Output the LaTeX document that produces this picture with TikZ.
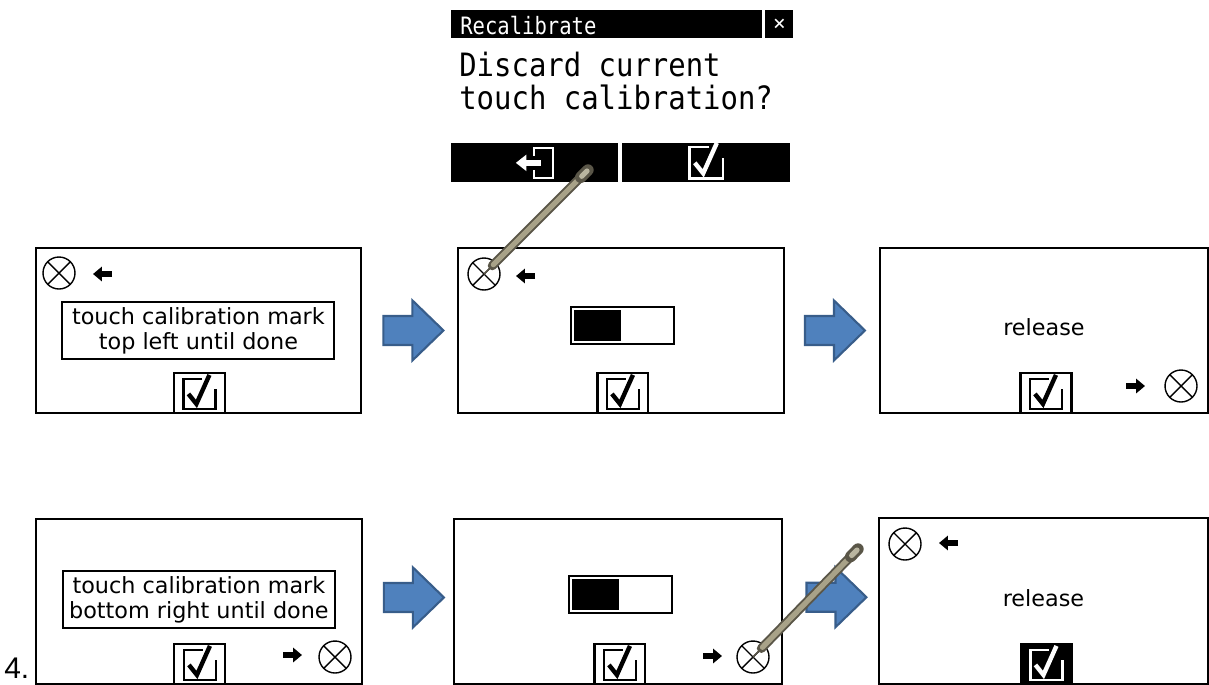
\documentclass[tikz,border=0pt]{standalone}
\usepackage{fontspec}
\setmainfont{Liberation Sans}
\newfontfamily\lcdfont{DejaVu Sans Mono}
\newfontfamily\panelfont{DejaVu Sans}
\usetikzlibrary{positioning, arrows.meta, calc}
\definecolor{flowfill}{RGB}{79,129,189}
\definecolor{flowline}{RGB}{56,93,138}
\definecolor{penbody}{RGB}{168,162,136}
\definecolor{penedge}{RGB}{90,86,72}

\tikzset{
  pics/tick/.style={code={
    \draw[line width=1.3pt] (3,-15) -- (-16,-15) -- (-16,15) -- (16,15) -- (16,-5);
    \draw[line width=2.5pt] (-11,0) -- (-3,10) -- (10,-19);
  }},
  pics/exiticon/.style={code={
    \draw[line width=1.3pt] (-2,-7) -- (-2,-15) -- (17,-15) -- (17,15) -- (-2,15) -- (-2,7);
    \draw[line width=3.2pt, -{Triangle[width=9pt,length=6pt]}] (5,0) -- (-20,0);
  }},
  pics/flow/.style={code={
    \filldraw[fill=flowfill, draw=flowline, line width=1.2pt]
      (-30,-14.5) -- (-1,-14.5) -- (-1,-30) -- (30,0) -- (-1,30) -- (-1,14.5) -- (-30,14.5) -- cycle;
  }}
}

\begin{document}
\begin{tikzpicture}[x=0.02cm, y=-0.02cm,
panel/.style={rectangle, draw, line width=1.1pt, anchor=north west, minimum height=3.3cm},
note/.style={rectangle, draw, line width=1.1pt, minimum width=5.44cm, minimum height=1.14cm,
  align=center, inner sep=0pt, font=\panelfont\fontsize{12.7}{14.2}\selectfont},
msgtext/.style={font=\panelfont\fontsize{12.7}{14}\selectfont},
okbtn/.style={rectangle, draw, line width=1.2pt, anchor=south, minimum width=1.02cm, minimum height=0.8cm},
bar/.style={rectangle, draw, line width=1.3pt, anchor=north west, minimum width=2.06cm, minimum height=0.74cm},
crossmark/.style={circle, draw, line width=0.8pt, minimum size=0.64cm, inner sep=0pt,
  path picture={\draw[line width=0.8pt]
    (path picture bounding box.north west) -- (path picture bounding box.south east)
    (path picture bounding box.north east) -- (path picture bounding box.south west);}},
mk/.style={line width=3pt, -{Triangle[width=8pt,length=5pt]}},
lcdbar/.style={rectangle, fill=black, anchor=north west, inner sep=0pt},
pen/.style={line cap=round}
]
\useasboundingbox (0,0) rectangle (1209,684);

% Recalibrate dialog
\node[lcdbar, minimum width=6.22cm, minimum height=0.56cm] (title) at (451,10) {};
\node[lcdbar, minimum width=0.56cm, minimum height=0.56cm] (close) at (765,10) {};
\node[anchor=west, white, inner sep=0pt, xscale=0.86, transform shape,
  font=\lcdfont\fontsize{13.6}{15}\selectfont] (titletext)
  at ([shift={(9,1)}]title.west) {Recalibrate};
\node[white, font=\lcdfont\fontsize{12}{13}\selectfont] (closetext) at (close.center) {×};
\node[anchor=north west, align=left, inner sep=0pt, xscale=0.9, transform shape,
  font=\lcdfont\fontsize{18.3}{18.8}\selectfont] (question) at (459,52)
  {Discard current\\touch calibration?};
\node[lcdbar, minimum width=3.34cm, minimum height=0.78cm] (back) at (451,143) {};
\node[lcdbar, minimum width=3.36cm, minimum height=0.78cm] (accept) at (622,143) {};
\pic[white] at ([shift={(1,0)}]back.center) {exiticon};
\pic[white, scale=1.05] at (accept.center) {tick};

% top row
\node[panel, minimum width=6.5cm] (p1) at (35,247) {};
\node[crossmark] (c1) at ([shift={(24,26)}]p1.north west) {};
\coordinate (a1) at (93,274);
\draw[mk] ([shift={(19,0)}]a1) -- (a1);
\node[note] (n1) at (p1.center) {touch calibration mark\\top left until done};
\node[okbtn] (k1) at ([shift={(1,0)}]p1.south) {};
\pic at ([shift={(0,-20)}]k1.south) {tick};

\node[panel, minimum width=6.52cm] (p2) at (457,247) {};
\node[crossmark] (c2) at ([shift={(27,27)}]p2.north west) {};
\coordinate (a2) at (516,276);
\draw[mk] ([shift={(19,0)}]a2) -- (a2);
\node[bar] (b2) at ([shift={(113,59)}]p2.north west) {};
\fill ([shift={(4,4)}]b2.north west) rectangle ([shift={(51,-4)}]b2.south west);
\node[okbtn] (k2) at ([shift={(2,0)}]p2.south) {};
\pic at ([shift={(0,-20)}]k2.south) {tick};

\node[panel, minimum width=6.56cm] (p3) at (879,247) {};
\node[msgtext] (r3) at ([shift={(0,-3)}]p3.center) {release};
\node[okbtn] (k3) at ([shift={(2,0)}]p3.south) {};
\pic at ([shift={(0,-20)}]k3.south) {tick};
\coordinate (a3) at (1145,386);
\draw[mk] ([shift={(-19,0)}]a3) -- (a3);
\node[crossmark] (c3) at ([shift={(302,139)}]p3.north west) {};

% bottom row
\node[anchor=base west, font=\fontsize{17}{20}\selectfont, inner sep=0pt] (step4) at (4,678) {4.};

\node[panel, minimum width=6.52cm] (p4) at (35,518) {};
\node[note] (n4) at ([shift={(0,-2)}]p4.center) {touch calibration mark\\bottom right until done};
\node[okbtn] (k4) at ([shift={(1,0)}]p4.south) {};
\pic at ([shift={(0,-20)}]k4.south) {tick};
\coordinate (a4) at (302,655);
\draw[mk] ([shift={(-19,0)}]a4) -- (a4);
\node[crossmark] (c4) at ([shift={(300,139)}]p4.north west) {};

\node[panel, minimum width=6.56cm] (p5) at (453,518) {};
\node[bar] (b5) at ([shift={(115,57)}]p5.north west) {};
\fill ([shift={(4,4)}]b5.north west) rectangle ([shift={(51,-4)}]b5.south west);
\node[okbtn] (k5) at ([shift={(2,0)}]p5.south) {};
\pic at ([shift={(0,-20)}]k5.south) {tick};
\coordinate (a5) at (722,656);
\draw[mk] ([shift={(-19,0)}]a5) -- (a5);
\node[crossmark] (c5) at ([shift={(300,139)}]p5.north west) {};

\node[panel, minimum width=6.58cm, minimum height=3.32cm] (p6) at (878,517) {};
\node[crossmark] (c6) at ([shift={(27,27)}]p6.north west) {};
\coordinate (a6) at (939,543);
\draw[mk] ([shift={(19,0)}]a6) -- (a6);
\node[msgtext] (r6) at ([shift={(0,-3)}]p6.center) {release};
\node[okbtn, fill=black] (k6) at ([shift={(3,0)}]p6.south) {};
\pic[white] at ([shift={(0,-20)}]k6.south) {tick};

% flow arrows
\pic at ($(p1.east)!0.5!(p2.west)+(4,0)$) {flow};
\pic at ($(p2.east)!0.5!(p3.west)+(3,0)$) {flow};
\pic at ($(p4.east)!0.5!(p5.west)+(6,-4)$) {flow};
\pic at ($(p5.east)!0.5!(p6.west)+(6,-4)$) {flow};

% styluses
\coordinate (s1) at (588,170);
\coordinate (s2) at (858,549);
\foreach \tip/\top in {c2/s1, c5/s2} {
  \draw[pen, line width=0.8pt, penedge] (\tip.center) -- ($(\tip.center)!0.1!(\top)$);
  \draw[pen, line width=5.2pt, penedge] ($(\tip.center)!0.08!(\top)$) -- ($(\tip.center)!0.94!(\top)$);
  \draw[pen, line width=3pt, penbody] ($(\tip.center)!0.09!(\top)$) -- ($(\tip.center)!0.94!(\top)$);
  \draw[pen, line width=6.5pt, penedge] ($(\tip.center)!0.93!(\top)$) -- (\top);
  \draw[pen, line width=3pt, penbody!80!white] ($(\tip.center)!0.94!(\top)$) -- ($(\tip.center)!0.99!(\top)$);
}
\end{tikzpicture}
\end{document}
